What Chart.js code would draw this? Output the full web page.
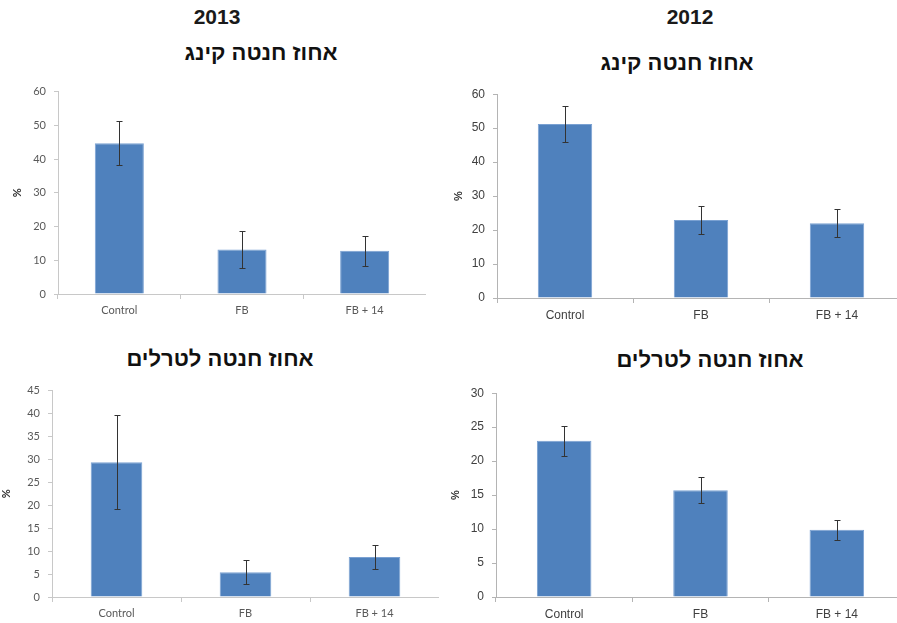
<!DOCTYPE html>
<html>
<head>
<meta charset="utf-8">
<script src="https://cdn.jsdelivr.net/npm/chart.js@4.4.1/dist/chart.umd.min.js"></script>
<style>
  body { margin: 0; width: 897px; height: 623px; overflow: hidden; background: #fff; position: relative; }
  canvas { position: absolute; }
  .head { position: absolute; width: 200px; text-align: center; font: bold 21px "Liberation Sans", Arial, sans-serif; color: #1a1a1a; }
  .title { position: absolute; width: 260px; text-align: center; font: bold 22px "Liberation Sans", Arial, sans-serif; color: #111; }
</style>
</head>
<body>

<div class="head" style="left:117px; top:5px;">2013</div>
<div class="head" style="left:590px; top:5px;">2012</div>
<div class="title" dir="rtl" style="left:131px; top:40px;">אחוז חנטה קינג</div>
<div class="title" dir="rtl" style="left:547px; top:50px;">אחוז חנטה קינג</div>
<div class="title" dir="rtl" style="left:90px; top:346px;">אחוז חנטה לטרלים</div>
<div class="title" dir="rtl" style="left:580px; top:347px;">אחוז חנטה לטרלים</div>

<canvas id="king2013"></canvas>
<canvas id="king2012"></canvas>
<canvas id="terrel2013"></canvas>
<canvas id="terrel2012"></canvas>

<script>
// data
const categories = ['Control', 'FB', 'FB + 14'];

const king2013 = [44.7, 13.2, 12.8];
const king2013Err = [6.5, 5.4, 4.5];

const king2012 = [51.2, 23.0, 22.0];
const king2012Err = [5.2, 4.2, 4.1];

const terrel2013 = [29.4, 5.4, 8.7];
const terrel2013Err = [10.3, 2.6, 2.6];

const terrel2012 = [23.0, 15.7, 9.9];
const terrel2012Err = [2.2, 1.9, 1.5];

const yMax = [60, 60, 45, 30];
const yStep = [10, 10, 5, 5];

// error bars drawn with the chart's own y scale
const errorBars = {
    id: 'errorBars',
    afterDatasetsDraw(chart) {
        const ctx = chart.ctx;
        const y = chart.scales.y;
        const errs = chart.options.plugins.errorBars.errs;
        const meta = chart.getDatasetMeta(0);
        const vals = chart.data.datasets[0].data;
        ctx.save();
        ctx.strokeStyle = '#333333';
        ctx.lineWidth = 1;
        meta.data.forEach((bar, i) => {
            const x = Math.round(bar.x) + 0.5;
            const top = Math.round(y.getPixelForValue(vals[i] + errs[i])) + 0.5;
            const bot = Math.round(y.getPixelForValue(vals[i] - errs[i])) + 0.5;
            ctx.beginPath();
            ctx.moveTo(x, top); ctx.lineTo(x, bot);
            ctx.moveTo(x - 3, top); ctx.lineTo(x + 3, top);
            ctx.moveTo(x - 3, bot); ctx.lineTo(x + 3, bot);
            ctx.stroke();
        });
        ctx.restore();
    }
};

// canvas boxes and axis styles (layout only)
const boxes = [
    { id: 'king2013', left: 0, top: 77, width: 426, height: 243, yWidth: 58, titlePad: 11, font: 'Lato', tickSize: 11, xSize: 11, tickColor: '#595959', axisColor: '#c8c8c8' },
    { id: 'king2012', left: 447, top: 79, width: 458, height: 245, yWidth: 50, titlePad: 5, font: 'Liberation Sans', tickSize: 12, xSize: 12, tickColor: '#404040', axisColor: '#b4b4b4' },
    { id: 'terrel2013', left: 0, top: 376, width: 439, height: 247, yWidth: 52, titlePad: 0, font: 'Lato', tickSize: 11, xSize: 11, tickColor: '#595959', axisColor: '#c8c8c8' },
    { id: 'terrel2012', left: 447, top: 378, width: 458, height: 245, yWidth: 49, titlePad: 2, font: 'Liberation Sans', tickSize: 12, xSize: 12, tickColor: '#404040', axisColor: '#b4b4b4' }
];

const series = [
    [king2013, king2013Err],
    [king2012, king2012Err],
    [terrel2013, terrel2013Err],
    [terrel2012, terrel2012Err]
];

boxes.forEach((b, i) => {
    const canvas = document.getElementById(b.id);
    canvas.width = b.width;
    canvas.height = b.height;
    canvas.style.left = b.left + 'px';
    canvas.style.top = b.top + 'px';

    new Chart(canvas, {
        type: 'bar',
        data: {
            labels: categories,
            datasets: [{
                data: series[i][0],
                backgroundColor: '#4f81bd',
                borderColor: '#7aa1d2',
                borderWidth: 1,
                categoryPercentage: 1,
                barPercentage: 0.4
            }]
        },
        options: {
            responsive: false,
            animation: false,
            layout: { padding: { top: 10, left: 0, right: 0, bottom: 0 } },
            plugins: {
                legend: { display: false },
                tooltip: { enabled: false },
                errorBars: { errs: series[i][1] }
            },
            scales: {
                x: {
                    afterFit: s => { s.height = 26; },
                    border: { display: true, color: b.axisColor },
                    grid: { offset: true, drawOnChartArea: false, drawTicks: true, tickLength: 5, color: b.axisColor },
                    ticks: { color: b.tickColor, padding: 5, font: { family: b.font, size: b.xSize } }
                },
                y: {
                    min: 0,
                    max: yMax[i],
                    afterFit: s => { s.width = b.yWidth; },
                    border: { display: true, color: b.axisColor },
                    grid: { drawOnChartArea: false, drawTicks: true, tickLength: 4, color: b.axisColor },
                    ticks: { stepSize: yStep[i], color: b.tickColor, padding: 8, font: { family: b.font, size: b.tickSize } },
                    title: { display: true, text: '%', color: '#333333', padding: { top: b.titlePad, bottom: 0 }, font: { family: b.font, size: 11, weight: 'bold' } }
                }
            }
        },
        plugins: [errorBars]
    });
});
</script>
</body>
</html>
